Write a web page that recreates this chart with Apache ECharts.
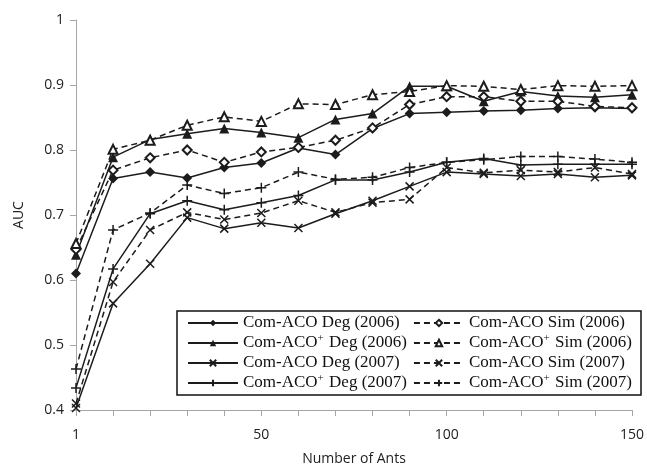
<!DOCTYPE html>
<html>
<head>
<meta charset="utf-8">
<script src="https://cdn.jsdelivr.net/npm/echarts@6/dist/echarts.min.js"></script>
<style>html,body{margin:0;padding:0;background:#fff}#c{width:647px;height:471px}</style>
</head>
<body>
<div id="c"></div>
<script>
var categories = ['1','10','20','30','40','50','60','70','80','90','100','110','120','130','140','150'];
var degACO2006  = [0.610,0.756,0.766,0.757,0.773,0.780,0.803,0.793,0.833,0.856,0.858,0.860,0.861,0.864,0.865,0.864];
var degACOp2006 = [0.639,0.789,0.816,0.825,0.833,0.827,0.819,0.847,0.856,0.898,0.898,0.875,0.890,0.883,0.881,0.885];
var degACO2007  = [0.403,0.564,0.625,0.696,0.679,0.688,0.680,0.702,0.722,0.744,0.766,0.763,0.760,0.763,0.758,0.761];
var degACOp2007 = [0.434,0.617,0.702,0.722,0.708,0.719,0.730,0.754,0.754,0.766,0.781,0.787,0.777,0.778,0.778,0.778];
var simACO2006  = [0.647,0.769,0.788,0.800,0.781,0.797,0.804,0.815,0.834,0.870,0.882,0.882,0.875,0.875,0.867,0.865];
var simACOp2006 = [0.656,0.801,0.815,0.838,0.851,0.844,0.871,0.870,0.885,0.890,0.899,0.898,0.893,0.899,0.898,0.899];
var simACO2007  = [0.410,0.597,0.677,0.704,0.693,0.703,0.722,0.704,0.719,0.724,0.773,0.765,0.769,0.766,0.773,0.763];
var simACOp2007 = [0.463,0.677,0.703,0.746,0.733,0.742,0.766,0.755,0.758,0.773,0.781,0.785,0.790,0.790,0.786,0.781];
var yTicks = {min: 0.4, max: 1, interval: 0.1};

var INK = '#1c1c1c';
var XPATH = 'path://M0,0L10,10M10,0L0,10';
var PPATH = 'path://M5,0L5,10M0,5L10,5';

function mk(name, data, dashed, symbol, size, filled) {
  var isPath = symbol.indexOf('path://') === 0;
  return {
    name: name, type: 'line', data: data,
    symbol: symbol, symbolSize: size, showSymbol: true,
    lineStyle: {color: INK, width: 1.5, type: dashed ? [6, 4] : 'solid'},
    itemStyle: isPath ? {color: INK, borderColor: INK, borderWidth: 1.5}
                      : (filled ? {color: INK, borderWidth: 0} : {color: INK, borderColor: INK, borderWidth: 1.3}),
    emphasis: {disabled: true},
    animation: false
  };
}

var series = [
  mk('Com-ACO Deg (2006)', degACO2006, false, 'diamond', 10, true),
  mk('Com-ACO+ Deg (2006)', degACOp2006, false, 'triangle', 10, true),
  mk('Com-ACO Deg (2007)', degACO2007, false, XPATH, 8),
  mk('Com-ACO+ Deg (2007)', degACOp2007, false, PPATH, 10),
  mk('Com-ACO Sim (2006)', simACO2006, true, 'emptyDiamond', 9, false),
  mk('Com-ACO+ Sim (2006)', simACOp2006, true, 'emptyTriangle', 9, false),
  mk('Com-ACO Sim (2007)', simACO2007, true, XPATH, 8),
  mk('Com-ACO+ Sim (2007)', simACOp2007, true, PPATH, 10)
];

var chart = echarts.init(document.getElementById('c'), null, {renderer: 'canvas'});
chart.setOption({
  animation: false,
  backgroundColor: '#fff',
  grid: {left: 76, right: 14, top: 20, bottom: 59, containLabel: false},
  xAxis: {
    type: 'category', data: categories, boundaryGap: false,
    name: 'Number of Ants', nameLocation: 'middle', nameGap: 42,
    nameTextStyle: {fontFamily: 'Open Sans', fontSize: 14, color: '#222'},
    axisLine: {lineStyle: {color: '#a6a6a6', width: 1}},
    axisTick: {show: true, interval: 0, length: 6, lineStyle: {color: '#a6a6a6'}},
    axisLabel: {interval: function (i) { return i % 5 === 0; }, margin: 18,
      fontFamily: 'Open Sans', fontSize: 14, color: '#222'},
    splitLine: {show: false}
  },
  yAxis: {
    type: 'value', min: yTicks.min, max: yTicks.max, interval: yTicks.interval,
    name: 'AUC', nameLocation: 'middle', nameGap: 50,
    nameTextStyle: {fontFamily: 'Open Sans', fontSize: 14, color: '#222'},
    axisLine: {show: true, lineStyle: {color: '#a6a6a6', width: 1}},
    axisTick: {show: true, length: 6, lineStyle: {color: '#a6a6a6'}},
    axisLabel: {margin: 12, fontFamily: 'Open Sans', fontSize: 14, color: '#222'},
    splitLine: {show: false}
  },
  legend: {
    orient: 'vertical', left: 177, top: 311, height: 82,
    padding: [2, 3, 2, 10],
    borderColor: '#111', borderWidth: 1.5,
    backgroundColor: '#fff',
    itemWidth: 50, itemHeight: 8, itemGap: 0,
    data: series.map(function (s) { return s.name; }),
    formatter: function (n) { return n.replace('ACO+', 'ACO{sup|+}'); },
    textStyle: {fontFamily: 'Liberation Serif', fontSize: 17, color: '#111', lineHeight: 20, padding: [0, 6, 0, 0],
      rich: {sup: {fontFamily: 'Liberation Serif', fontSize: 11, color: '#111', verticalAlign: 'top', lineHeight: 20, padding: [0, 1, 7, 0]}}}
  },
  series: series
});
</script>
</body>
</html>
